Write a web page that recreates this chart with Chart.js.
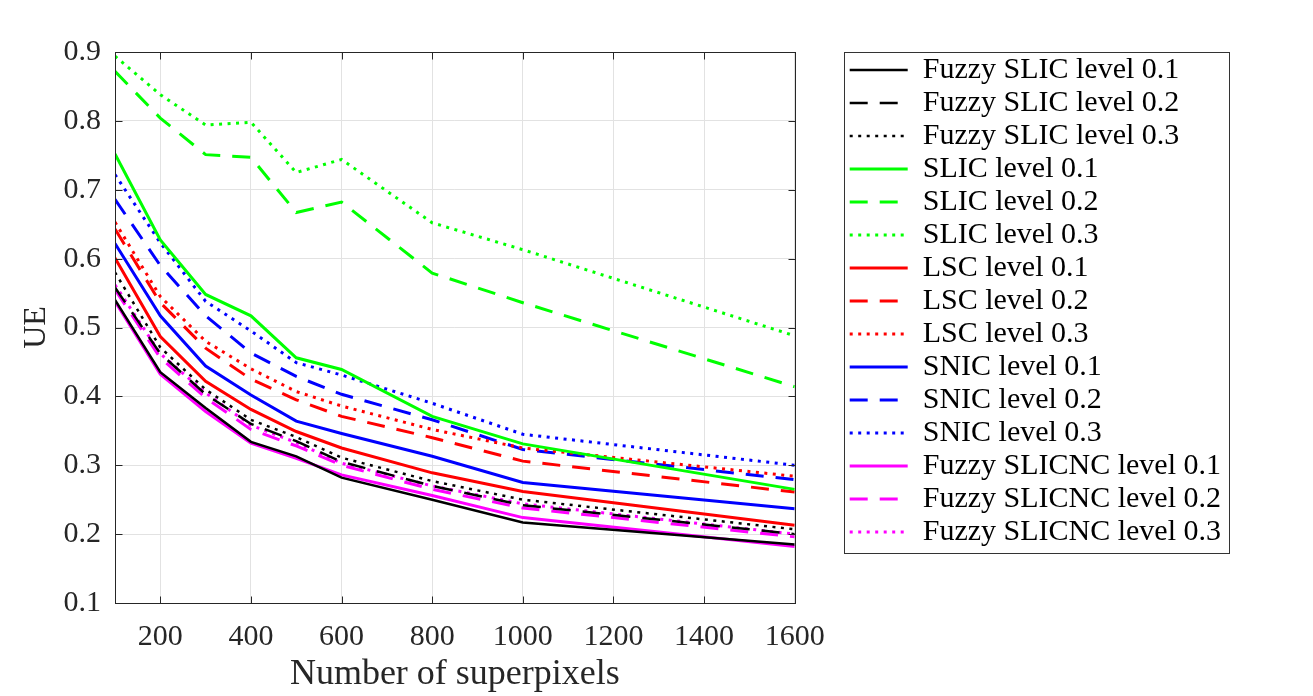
<!DOCTYPE html>
<html>
<head>
<meta charset="utf-8">
<script src="https://cdn.jsdelivr.net/npm/chart.js@4.4.1/dist/chart.umd.min.js"></script>
<style>
  html, body { margin: 0; padding: 0; background: #fff; }
  #wrap { width: 1313px; height: 696px; }
</style>
</head>
<body>
<div id="wrap"><canvas id="ueChart" width="1313" height="696"></canvas></div>
<script>
// So luong superpixel (truc x)
const superpixels = [100, 200, 300, 400, 500, 600, 800, 1000, 1600];
const xTicks = [200, 400, 600, 800, 1000, 1200, 1400, 1600];
const yTicks = [0.1, 0.2, 0.3, 0.4, 0.5, 0.6, 0.7, 0.8, 0.9];

// Gia tri UE doc tu hinh
const fuzzySlic01 = [0.540, 0.435, 0.383, 0.334, 0.313, 0.282, 0.250, 0.217, 0.185];
const fuzzySlic02 = [0.558, 0.462, 0.403, 0.360, 0.335, 0.305, 0.270, 0.242, 0.200];
const fuzzySlic03 = [0.580, 0.471, 0.410, 0.366, 0.341, 0.311, 0.277, 0.250, 0.207];
const slic01 = [0.752, 0.627, 0.548, 0.517, 0.456, 0.439, 0.371, 0.331, 0.265];
const slic02 = [0.872, 0.804, 0.751, 0.747, 0.667, 0.682, 0.579, 0.536, 0.414];
const slic03 = [0.894, 0.838, 0.794, 0.798, 0.725, 0.744, 0.652, 0.613, 0.488];
const lsc01 = [0.601, 0.487, 0.422, 0.381, 0.349, 0.325, 0.289, 0.262, 0.213];
const lsc02 = [0.643, 0.536, 0.470, 0.425, 0.395, 0.371, 0.340, 0.306, 0.261];
const lsc03 = [0.653, 0.545, 0.480, 0.440, 0.407, 0.386, 0.352, 0.325, 0.284];
const snic01 = [0.622, 0.517, 0.444, 0.402, 0.364, 0.346, 0.313, 0.275, 0.237];
const snic02 = [0.686, 0.590, 0.517, 0.463, 0.429, 0.403, 0.366, 0.323, 0.279];
const snic03 = [0.722, 0.623, 0.538, 0.495, 0.449, 0.431, 0.390, 0.345, 0.300];
const slicnc01 = [0.538, 0.432, 0.378, 0.332, 0.310, 0.286, 0.256, 0.224, 0.182];
const slicnc02 = [0.555, 0.456, 0.398, 0.352, 0.328, 0.300, 0.265, 0.238, 0.196];
const slicnc03 = [0.562, 0.462, 0.405, 0.358, 0.333, 0.303, 0.270, 0.244, 0.200];

const SERIF = "'Liberation Serif', 'Times New Roman', serif";
const DASH = [18, 12];
const DOT = [3, 5.5];

function series(label, values, color, dash, width) {
  return {
    label: label,
    data: values.map((v, i) => ({ x: superpixels[i], y: v })),
    borderColor: color,
    backgroundColor: color,
    borderWidth: width || 3,
    borderDash: dash,
    borderCapStyle: "butt",
    pointRadius: 0,
    tension: 0,
    fill: false,
  };
}

// Khung truc va vach chia huong vao trong (kieu MATLAB)
const boxFrame = {
  id: "boxFrame",
  afterDatasetsDraw(chart) {
    const { ctx, chartArea: a, scales } = chart;
    const L = Math.round(a.left) + 0.5, R = Math.round(a.right) + 0.5;
    const T = Math.round(a.top) + 0.5, B = Math.round(a.bottom) + 0.5;
    ctx.save();
    ctx.strokeStyle = "#262626";
    ctx.lineWidth = 1;
    ctx.strokeRect(L, T, R - L, B - T);
    ctx.beginPath();
    scales.x.ticks.forEach((t) => {
      const px = Math.round(scales.x.getPixelForValue(t.value)) + 0.5;
      ctx.moveTo(px, B); ctx.lineTo(px, B - 7);
      ctx.moveTo(px, T); ctx.lineTo(px, T + 7);
    });
    scales.y.ticks.forEach((t) => {
      const py = Math.round(scales.y.getPixelForValue(t.value)) + 0.5;
      ctx.moveTo(L, py); ctx.lineTo(L + 7, py);
      ctx.moveTo(R, py); ctx.lineTo(R - 7, py);
    });
    ctx.stroke();
    // khung chu giai
    ctx.strokeStyle = "#333";
    ctx.strokeRect(844.5, 52.5, 385, 501);
    ctx.restore();
  },
};

// Chu giai: lay net dut tu dataset
function legendLabels(chart) {
  const items = Chart.defaults.plugins.legend.labels.generateLabels(chart);
  items.forEach((it) => {
    const ds = chart.data.datasets[it.datasetIndex];
    it.lineDash = ds.borderDash;
    it.lineWidth = ds.borderWidth;
    it.strokeStyle = ds.borderColor;
    it.fillStyle = ds.borderColor;
    it.lineCap = "butt";
  });
  return items;
}

const ctx = document.getElementById("ueChart").getContext("2d");
new Chart(ctx, {
  type: "line",
  data: {
    datasets: [
      series("Fuzzy SLIC level 0.1", fuzzySlic01, "#000000", [], 2.5),
      series("Fuzzy SLIC level 0.2", fuzzySlic02, "#000000", DASH, 2.5),
      series("Fuzzy SLIC level 0.3", fuzzySlic03, "#000000", DOT, 2.5),
      series("SLIC level 0.1", slic01, "#00ff00", []),
      series("SLIC level 0.2", slic02, "#00ff00", DASH),
      series("SLIC level 0.3", slic03, "#00ff00", DOT),
      series("LSC level 0.1", lsc01, "#ff0000", []),
      series("LSC level 0.2", lsc02, "#ff0000", DASH),
      series("LSC level 0.3", lsc03, "#ff0000", DOT),
      series("SNIC level 0.1", snic01, "#0000ff", []),
      series("SNIC level 0.2", snic02, "#0000ff", DASH),
      series("SNIC level 0.3", snic03, "#0000ff", DOT),
      series("Fuzzy SLICNC level 0.1", slicnc01, "#ff00ff", []),
      series("Fuzzy SLICNC level 0.2", slicnc02, "#ff00ff", DASH),
      series("Fuzzy SLICNC level 0.3", slicnc03, "#ff00ff", DOT),
    ],
  },
  options: {
    responsive: false,
    animation: false,
    layout: {
      padding: { top: 52, right: 82, bottom: 0, left: 0 },
    },
    plugins: {
      legend: {
        position: "right",
        align: "start",
        maxWidth: 385,
        labels: {
          usePointStyle: true,
          pointStyle: "line",
          pointStyleWidth: 58,
          padding: 3,
          color: "#000",
          font: { family: SERIF, size: 30 },
          generateLabels: legendLabels,
        },
      },
      tooltip: { enabled: false },
    },
    scales: {
      x: {
        type: "linear",
        position: "bottom",
        min: 100,
        max: 1600,
        afterBuildTicks: (s) => { s.ticks = xTicks.map((v) => ({ value: v })); },
        afterFit: (s) => { s.height = 93; },
        ticks: {
          autoSkip: false,
          maxRotation: 0,
          padding: 16,
          color: "#262626",
          font: { family: SERIF, size: 30 },
          callback: (v) => String(v),
        },
        grid: { color: "#e2e2e2", drawTicks: false },
        border: { display: false },
        title: {
          display: true,
          text: "Number of superpixels",
          color: "#262626",
          padding: { top: 0, bottom: 0 },
          font: { family: SERIF, size: 36 },
        },
      },
      y: {
        type: "linear",
        position: "left",
        min: 0.1,
        max: 0.9,
        afterBuildTicks: (s) => { s.ticks = yTicks.map((v) => ({ value: v })); },
        afterFit: (s) => { s.width = 115; },
        ticks: {
          padding: 14,
          color: "#262626",
          font: { family: SERIF, size: 30 },
          callback: (v) => Number(v).toFixed(1),
        },
        grid: { color: "#e2e2e2", drawTicks: false },
        border: { display: false },
        title: {
          display: true,
          text: "UE",
          color: "#262626",
          padding: { top: 17, bottom: 0 },
          font: { family: SERIF, size: 32 },
        },
      },
      gap: {
        type: "linear",
        position: "right",
        afterFit: (s) => { s.width = 52; },
        ticks: { display: false },
        grid: { display: false },
        border: { display: false },
      },
    },
  },
  plugins: [boxFrame],
});
</script>
</body>
</html>
